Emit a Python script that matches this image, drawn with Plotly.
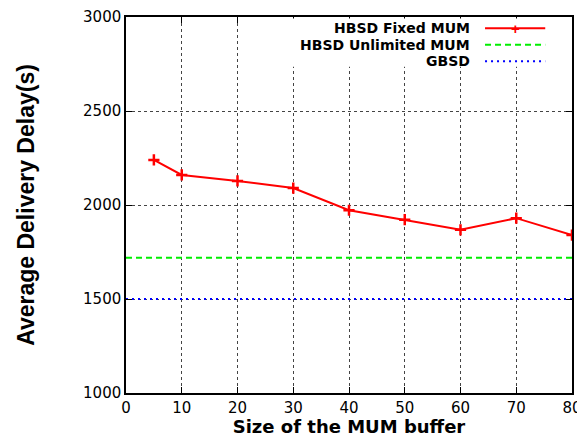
import plotly.graph_objects as go

# data
buffer_size = [5, 10, 20, 30, 40, 50, 60, 70, 80]
hbsd_fixed = [2240, 2160, 2128, 2090, 1972, 1922, 1868, 1930, 1840]
x_span = [0, 80]
hbsd_unlimited = [1720, 1720]
gbsd = [1500, 1500]

legend_names = ["HBSD Fixed MUM", "HBSD Unlimited MUM", "GBSD"]
x_ticks = [0, 10, 20, 30, 40, 50, 60, 70, 80]
y_ticks = [1000, 1500, 2000, 2500, 3000]

tick_font = dict(family="DejaVu Sans, Arial", size=15, color="black")

fig = go.Figure()

fig.add_trace(go.Scatter(x=buffer_size, y=hbsd_fixed, mode="lines+markers",
                         line=dict(color="#ff0000", width=2),
                         marker=dict(symbol="cross-thin", size=8,
                                     line=dict(color="#ff0000", width=2.5)),
                         name=legend_names[0], showlegend=False))
fig.add_trace(go.Scatter(x=x_span, y=hbsd_unlimited, mode="lines",
                         line=dict(color="#00ee00", width=2, dash="6px,4px"),
                         name=legend_names[1], showlegend=False))
fig.add_trace(go.Scatter(x=x_span, y=gbsd, mode="lines",
                         line=dict(color="#0000ff", width=2, dash="2px,4px"),
                         name=legend_names[2], showlegend=False))

# white box behind the key, covers the grid
fig.add_shape(type="rect", xref="paper", yref="paper", x0=0.36, x1=0.995, y0=0.868, y1=0.996,
              fillcolor="white", line=dict(width=0), layer="above")

# key: text right aligned, sample to the right (gnuplot style)
key_y = [0.97, 0.926, 0.882]
key_colors = ["#ff0000", "#00ee00", "#0000ff"]
key_dash = ["solid", "6px,4px", "2px,4px"]
for name, ky, col, dsh in zip(legend_names, key_y, key_colors, key_dash):
    fig.add_annotation(x=0.775, y=ky, xref="paper", yref="paper", text="<b>%s</b>" % name,
                       showarrow=False, xanchor="right", yanchor="middle",
                       font=dict(family="DejaVu Sans, Arial", size=14, color="black"))
    fig.add_shape(type="line", xref="paper", yref="paper", x0=0.805, x1=0.94, y0=ky, y1=ky,
                  line=dict(color=col, width=2, dash=dsh), layer="above")
fig.add_annotation(x=0.873, y=key_y[0], xref="paper", yref="paper", text="<b>+</b>",
                   showarrow=False, xanchor="center", yanchor="middle",
                   font=dict(family="Liberation Sans, Arial", size=15, color="#ff0000"))

# page body has an 8px margin, so the figure is a bit smaller than the window
fig.update_layout(
    width=577, height=429,
    margin=dict(l=118, r=13, t=9, b=44),
    plot_bgcolor="white", paper_bgcolor="white",
    showlegend=False,
)
fig.update_xaxes(range=[0, 80], tickvals=x_ticks, tickfont=tick_font, automargin=False,
                 ticklabeloverflow="allow",
                 showline=True, linecolor="black", linewidth=1.5, mirror="allticks",
                 ticks="inside", ticklen=6, tickcolor="black",
                 showgrid=True, gridcolor="#444444", griddash="dot", gridwidth=1,
                 zeroline=False,
                 title=dict(text="<b>Size of the MUM buffer</b>", standoff=5,
                            font=dict(family="DejaVu Sans, Arial", size=18, color="black")))
fig.update_yaxes(range=[1000, 3000], tickvals=y_ticks, tickfont=tick_font, automargin=False,
                 ticklabeloverflow="allow",
                 showline=True, linecolor="black", linewidth=1.5, mirror="allticks",
                 ticks="inside", ticklen=6, tickcolor="black",
                 showgrid=True, gridcolor="#444444", griddash="dot", gridwidth=1,
                 zeroline=False,
                 title=dict(text="<b>Average Delivery Delay(s)</b>", standoff=42,
                            font=dict(family="Liberation Sans, Arial", size=23, color="black")))

fig.write_html("out.html")
